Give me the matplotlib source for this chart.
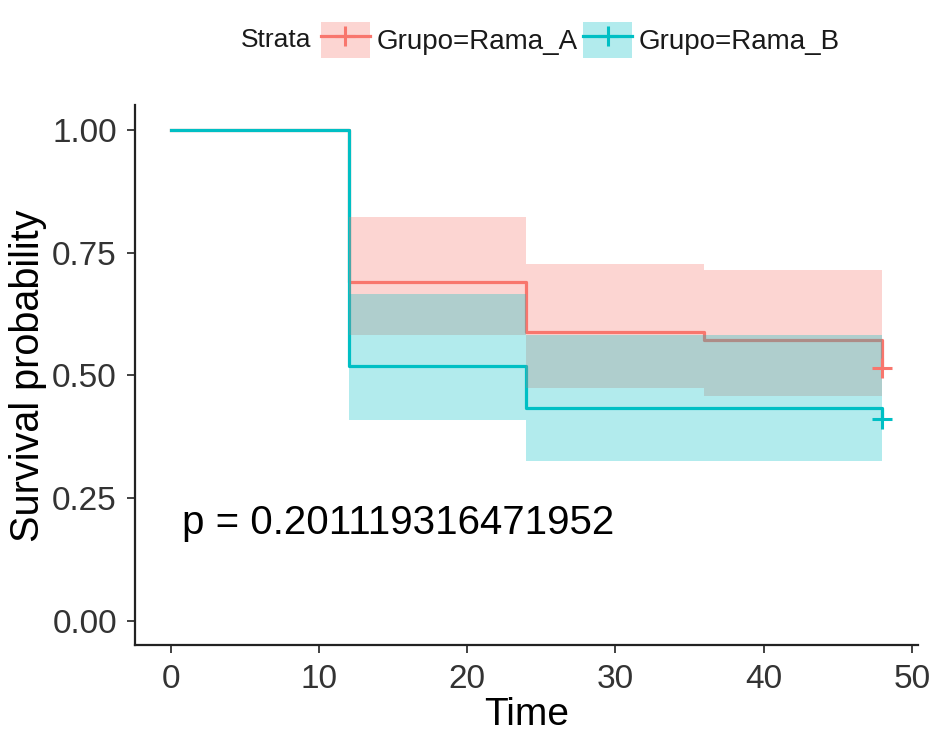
import matplotlib
matplotlib.use("Agg")
import matplotlib.pyplot as plt
from matplotlib.patches import Patch
from matplotlib.lines import Line2D
import numpy as np

plt.rcParams['font.family'] = ['Liberation Sans', 'DejaVu Sans']

# Kaplan-Meier estimates
time_a = [0, 12, 24, 36, 48]
surv_a = [1.0, 0.691, 0.589, 0.573, 0.515]
upper_a = [1.0, 0.823, 0.727, 0.714]   # CI per interval
lower_a = [1.0, 0.583, 0.474, 0.458]

time_b = [0, 12, 24, 48]
surv_b = [1.0, 0.520, 0.433, 0.411]
upper_b = [1.0, 0.665, 0.582]
lower_b = [1.0, 0.409, 0.326]

labels = ['Grupo=Rama_A', 'Grupo=Rama_B']
colors = ['#F8766D', '#00BFC4']
p_text = 'p = 0.201119316471952'

x_ticks = [0, 10, 20, 30, 40, 50]
y_ticks = [0.0, 0.25, 0.5, 0.75, 1.0]

fig = plt.figure(figsize=(9.4, 7.34), dpi=100)
ax = fig.add_axes([0.1436, 0.1206, 0.833, 0.7357])

groups = [(time_a, surv_a, upper_a, lower_a), (time_b, surv_b, upper_b, lower_b)]

# lines first, ribbons on top (as in ggsurvplot)
for (t, s, up, lo), c in zip(groups, colors):
    ax.step(t, s, where='post', color=c, lw=2.3, zorder=2)
    ax.plot(t[-1], s[-1], marker='+', color=c, ms=15, mew=2.2, zorder=4)
for (t, s, up, lo), c in zip(groups, colors):
    ax.fill_between(t, np.append(lo, lo[-1]), np.append(up, up[-1]),
                    step='post', color=c, alpha=0.3, lw=0, zorder=3)

ax.text(0.8, 0.2, p_text, fontsize=29, ha='left', va='center', color='black')

ax.set_xlim(-2.4, 50.4)
ax.set_ylim(-0.05, 1.05)
ax.set_xticks(x_ticks)
ax.set_yticks(y_ticks)
ax.set_yticklabels([f'{v:.2f}' for v in y_ticks])
ax.tick_params(labelsize=24, colors='#333333', length=6, width=1.3, pad=7,
               labelcolor='#333333')
for side in ['top', 'right']:
    ax.spines[side].set_visible(False)
for side in ['left', 'bottom']:
    ax.spines[side].set_linewidth(1.6)
    ax.spines[side].set_color('#222222')

ax.set_xlabel('Time', fontsize=28, labelpad=2)
ax.set_ylabel('Survival probability', fontsize=28.5, labelpad=4)

# legend on top
handles = []
for c in colors:
    handles.append((Patch(facecolor=c, alpha=0.3, edgecolor='none'),
                    Line2D([], [], color=c, lw=2.3, marker='+', ms=15, mew=2.2)))
fig.text(241 / 940, 1 - 40 / 734, 'Strata', fontsize=19, ha='left', va='center',
         color='#1a1a1a')
fig.legend(handles, labels, loc='center left', bbox_to_anchor=(321 / 940, 1 - 40 / 734),
           ncol=2, frameon=False, fontsize=20, handlelength=1.75, handleheight=1.6,
           handletextpad=0.25, columnspacing=0.2, borderpad=0, borderaxespad=0,
           labelcolor='#1a1a1a')

fig.savefig('out.png', dpi=100)
